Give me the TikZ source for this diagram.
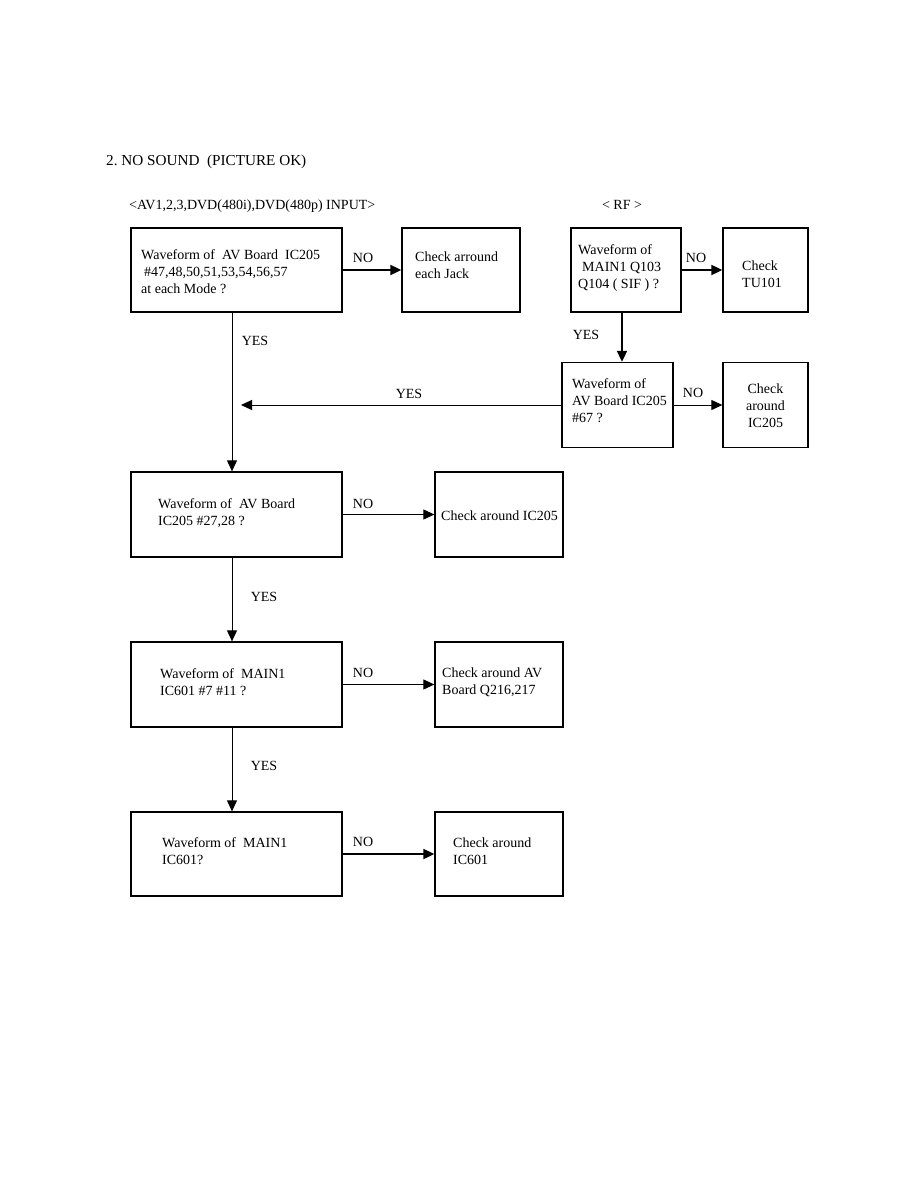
\documentclass[tikz,border=0pt]{standalone}
\usepackage{fontspec}
\setmainfont{Liberation Serif}
\usetikzlibrary{arrows.meta}
\frenchspacing
\begin{document}
\begin{tikzpicture}[x=1pt,y=-1pt,
  box/.style={draw, line width=1.3pt, inner sep=0pt},
  txt/.style={anchor=west, align=left, inner sep=0pt, font=\fontsize{14}{17}\selectfont},
  ctxt/.style={align=center, inner sep=0pt, font=\fontsize{14}{17}\selectfont},
  lbl/.style={inner sep=0pt, font=\fontsize{14}{17}\selectfont},
  conn/.style={line width=1pt, -{Triangle[length=11pt,width=10pt]}},
  boldconn/.style={line width=1.8pt, -{Triangle[length=11pt,width=10pt]}}
]
\useasboundingbox (0,0) rectangle (918,1188);

% titles
\node[anchor=west, inner sep=0pt, font=\fontsize{15.2}{18}\selectfont] (title) at (106,162) {2. NO SOUND\ \ (PICTURE OK)};
\node[anchor=west, inner sep=0pt, font=\fontsize{14}{17}\selectfont] (avin) at (129,206) {<AV1,2,3,DVD(480i),DVD(480p) INPUT>};
\node[inner sep=0pt, font=\fontsize{14}{17}\selectfont] (rf) at (622,205) {< RF >};

% boxes
\node[box, minimum width=211pt, minimum height=84pt] (a1) at (236.5,270) {};
\node[box, minimum width=118pt, minimum height=84pt] (a1n) at (461,270) {};
\node[box, minimum width=110pt, minimum height=84pt] (r1) at (626,270) {};
\node[box, minimum width=85pt, minimum height=84pt] (r1n) at (765.5,270) {};
\node[box, minimum width=111pt, minimum height=85pt] (r2) at (617.5,405) {};
\node[box, minimum width=85pt, minimum height=85pt] (r2n) at (765.5,405) {};
\node[box, minimum width=211pt, minimum height=85pt] (b) at (236.5,514.5) {};
\node[box, minimum width=128pt, minimum height=85pt] (bn) at (499,514.5) {};
\node[box, minimum width=211pt, minimum height=85pt] (c) at (236.5,684.5) {};
\node[box, minimum width=128pt, minimum height=85pt] (cn) at (499,684.5) {};
\node[box, minimum width=211pt, minimum height=84pt] (d) at (236.5,854) {};
\node[box, minimum width=128pt, minimum height=84pt] (dn) at (499,854) {};

% box texts
\node[txt] (a1t) at (141,272) {Waveform of\ \ AV Board\ \ IC205\\\hspace{3pt}\#47,48,50,51,53,54,56,57\\at each Mode ?};
\node[txt] (a1nt) at (415,265) {Check arround\\each Jack};
\node[txt] (r1t) at (578,268.5) {Waveform of\\\hspace{4pt}MAIN1 Q103\\Q104 ( SIF ) ?};
\node[txt] (r1nt) at (742,274.5) {Check\\TU101};
\node[txt] (r2t) at (572,401) {Waveform of\\AV Board IC205\\\#67 ?};
\node[ctxt] (r2nt) at (765.5,406) {Check\\around\\IC205};
\node[txt] (bt) at (158,513) {Waveform of\ \ AV Board\\IC205 \#27,28 ?};
\node[txt] (bnt) at (441,516) {Check around IC205};
\node[txt] (ct) at (160,682) {Waveform of\ \ MAIN1\\IC601 \#7 \#11 ?};
\node[txt] (cnt) at (442,682) {Check around AV\\Board Q216,217};
\node[txt] (dt) at (162,851) {Waveform of\ \ MAIN1\\IC601?};
\node[txt] (dnt) at (453,851) {Check around\\IC601};

% connectors
\coordinate (v) at (232,0);
\coordinate (join) at (241,405);
\draw[boldconn] (a1.east) -- (a1n.west);
\draw[boldconn] (r1.east) -- (r1n.west);
\draw[boldconn] (r1.south -| 622,0) -- (r2.north -| 622,0);
\draw[conn] (r2.east) -- (r2n.west);
\draw[conn] (r2.west) -- (join);
\draw[conn] (a1.south -| v) -- (b.north -| v);
\draw[conn] (b.east) -- (bn.west);
\draw[conn] (b.south -| v) -- (c.north -| v);
\draw[conn] (c.east) -- (cn.west);
\draw[conn] (c.south -| v) -- (d.north -| v);
\draw[boldconn] (d.east) -- (dn.west);

% labels
\node[lbl] (no1) at (363,258) {NO};
\node[lbl] (no2) at (696,258) {NO};
\node[lbl] (no3) at (693,393) {NO};
\node[lbl] (no4) at (363,504) {NO};
\node[lbl] (no5) at (363,673) {NO};
\node[lbl] (no6) at (363,842) {NO};
\node[lbl] (yes1) at (255,341) {YES};
\node[lbl] (yes2) at (586,335) {YES};
\node[lbl] (yes3) at (409,394) {YES};
\node[lbl] (yes4) at (264,597) {YES};
\node[lbl] (yes5) at (264,766) {YES};
\end{tikzpicture}
\end{document}
